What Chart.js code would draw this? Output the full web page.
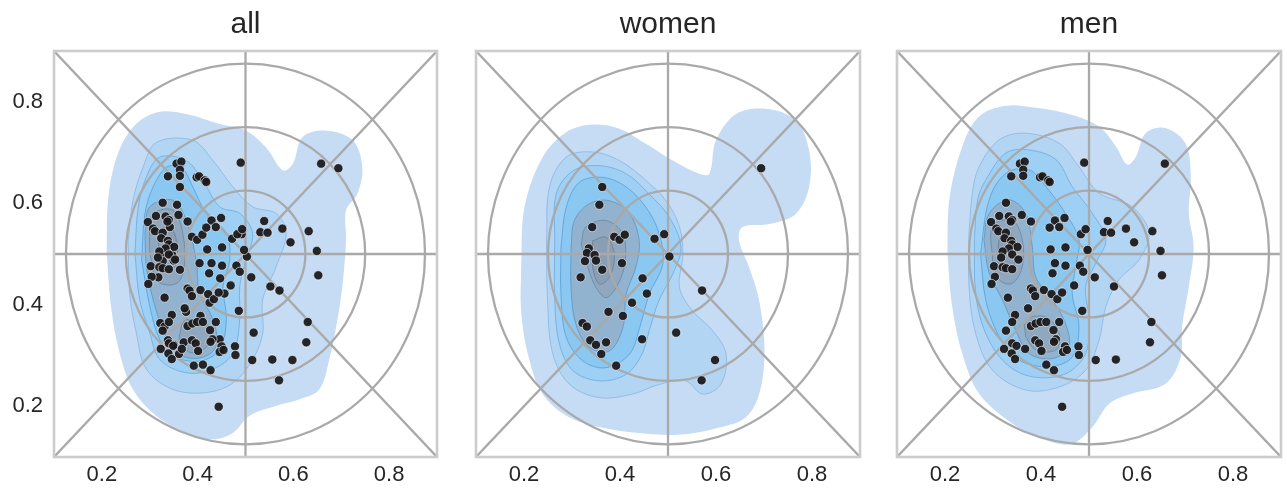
<!DOCTYPE html>
<html><head><meta charset="utf-8">
<script src="https://cdn.jsdelivr.net/npm/chart.js@4.4.1/dist/chart.umd.min.js"></script>
<style>
html,body{margin:0;padding:0;background:#fff;width:1287px;height:491px;overflow:hidden}
canvas{position:absolute;left:0;top:0}
</style></head><body>
<canvas id="c0" width="1287" height="491"></canvas>
<canvas id="c1" width="1287" height="491"></canvas>
<canvas id="c2" width="1287" height="491"></canvas>
<script>
// ---------------- DATA ----------------
const panelTitles = ['all', 'women', 'men'];
const xTicks = [0.2, 0.4, 0.6, 0.8];
const yTicks = [0.2, 0.4, 0.6, 0.8];
const axisRange = [0.1, 0.9];
const ringCenter = [0.5, 0.5];
const ringRadii = [0.125, 0.25, 0.375];
const spokes = [
  [[0.1, 0.5], [0.9, 0.5]],
  [[0.5, 0.1], [0.5, 0.9]],
  [[0.1, 0.1], [0.9, 0.9]],
  [[0.1, 0.9], [0.9, 0.1]]
];

const womenPoints = [
  [0.694,0.669],[0.363,0.632],[0.357,0.597],[0.342,0.553],[0.388,0.534],[0.399,0.528],[0.410,0.538],
  [0.472,0.530],[0.492,0.539],[0.335,0.511],[0.331,0.502],[0.347,0.498],[0.327,0.486],[0.350,0.487],
  [0.363,0.469],[0.404,0.482],[0.503,0.495],[0.318,0.454],[0.447,0.452],[0.456,0.422],[0.571,0.428],
  [0.425,0.404],[0.376,0.386],[0.406,0.378],[0.322,0.364],[0.331,0.357],[0.517,0.345],[0.338,0.330],
  [0.350,0.321],[0.371,0.326],[0.446,0.332],[0.361,0.303],[0.392,0.280],[0.598,0.291],[0.570,0.251]
];

const menPoints = [
  [0.356,0.678],[0.366,0.682],[0.363,0.666],[0.363,0.654],[0.338,0.653],[0.398,0.651],[0.403,0.653],
  [0.415,0.645],[0.418,0.642],[0.490,0.680],[0.658,0.678],[0.327,0.601],[0.313,0.575],[0.296,0.563],
  [0.333,0.574],[0.340,0.567],[0.337,0.564],[0.360,0.577],[0.379,0.564],[0.307,0.550],[0.311,0.545],
  [0.327,0.542],[0.324,0.531],[0.338,0.526],[0.340,0.519],[0.351,0.514],[0.333,0.511],[0.320,0.505],
  [0.317,0.493],[0.340,0.499],[0.353,0.489],[0.302,0.476],[0.320,0.474],[0.327,0.472],[0.340,0.470],
  [0.304,0.455],[0.297,0.441],[0.429,0.566],[0.449,0.571],[0.438,0.553],[0.418,0.552],[0.483,0.539],
  [0.493,0.549],[0.539,0.565],[0.531,0.543],[0.546,0.542],[0.577,0.550],[0.594,0.523],[0.632,0.545],
  [0.649,0.506],[0.652,0.458],[0.420,0.509],[0.451,0.513],[0.497,0.508],[0.429,0.482],[0.451,0.477],
  [0.481,0.477],[0.488,0.465],[0.424,0.462],[0.512,0.454],[0.469,0.438],[0.552,0.436],[0.379,0.432],
  [0.383,0.428],[0.388,0.417],[0.406,0.429],[0.422,0.421],[0.434,0.411],[0.444,0.424],[0.331,0.414],
  [0.373,0.393],[0.346,0.380],[0.340,0.366],[0.327,0.349],[0.486,0.388],[0.630,0.366],[0.627,0.326],
  [0.379,0.358],[0.389,0.363],[0.399,0.366],[0.411,0.366],[0.438,0.366],[0.426,0.350],[0.388,0.330],
  [0.396,0.324],[0.431,0.332],[0.427,0.327],[0.340,0.324],[0.349,0.319],[0.323,0.313],[0.367,0.313],
  [0.339,0.304],[0.346,0.293],[0.401,0.309],[0.450,0.318],[0.446,0.307],[0.454,0.311],[0.478,0.318],
  [0.479,0.301],[0.514,0.291],[0.556,0.292],[0.411,0.282],[0.427,0.271],[0.444,0.199]
];

const allPoints = womenPoints.concat(menPoints);

// KDE density contour levels (outer -> inner), per panel
const allKde1 = [[0.210,0.500],[0.213,0.606],[0.231,0.691],[0.265,0.750],[0.314,0.779],[0.376,0.776],[0.446,0.756],[0.501,0.743],[0.543,0.710],[0.578,0.665],[0.599,0.678],[0.619,0.730],[0.668,0.743],[0.724,0.724],[0.744,0.671],[0.734,0.619],[0.710,0.586],[0.710,0.527],[0.703,0.442],[0.692,0.371],[0.675,0.292],[0.654,0.233],[0.613,0.214],[0.564,0.201],[0.508,0.181],[0.474,0.148],[0.432,0.135],[0.376,0.148],[0.314,0.181],[0.265,0.233],[0.237,0.305],[0.220,0.390]];
const allKde2 = [[0.255,0.527],[0.265,0.606],[0.286,0.671],[0.314,0.720],[0.390,0.724],[0.432,0.684],[0.474,0.632],[0.515,0.593],[0.564,0.580],[0.585,0.541],[0.564,0.475],[0.536,0.410],[0.536,0.344],[0.515,0.292],[0.474,0.246],[0.418,0.227],[0.349,0.233],[0.293,0.273],[0.272,0.344],[0.258,0.423]];
const allKde3 = [[0.269,0.501],[0.276,0.593],[0.293,0.652],[0.321,0.691],[0.376,0.684],[0.411,0.645],[0.446,0.593],[0.488,0.580],[0.515,0.541],[0.501,0.488],[0.488,0.436],[0.488,0.371],[0.474,0.305],[0.432,0.273],[0.376,0.266],[0.321,0.292],[0.300,0.344],[0.279,0.410]];
const allKde4 = [[0.283,0.488],[0.290,0.580],[0.307,0.632],[0.335,0.671],[0.366,0.671],[0.390,0.632],[0.418,0.580],[0.460,0.541],[0.467,0.488],[0.453,0.436],[0.460,0.371],[0.446,0.312],[0.404,0.289],[0.349,0.299],[0.321,0.331],[0.300,0.397]];
const allKde5 = [[0.290,0.541],[0.300,0.593],[0.349,0.606],[0.376,0.567],[0.397,0.488],[0.404,0.423],[0.432,0.371],[0.439,0.318],[0.404,0.295],[0.356,0.305],[0.328,0.351],[0.307,0.410],[0.293,0.475]];
const allKde6a = [[0.300,0.501],[0.300,0.547],[0.307,0.580],[0.349,0.586],[0.369,0.541],[0.372,0.475],[0.356,0.442],[0.317,0.446]];
const allKde6b = [[0.366,0.358],[0.376,0.371],[0.418,0.364],[0.425,0.325],[0.390,0.305],[0.363,0.325]];
const allKde7 = [[0.318,0.510],[0.322,0.545],[0.340,0.555],[0.355,0.530],[0.355,0.480],[0.335,0.465],[0.320,0.480]];

const womenKde1 = [[0.194,0.474],[0.201,0.592],[0.239,0.691],[0.288,0.740],[0.343,0.755],[0.399,0.747],[0.454,0.717],[0.510,0.684],[0.565,0.658],[0.586,0.658],[0.600,0.724],[0.642,0.776],[0.704,0.786],[0.766,0.763],[0.794,0.704],[0.794,0.632],[0.766,0.579],[0.711,0.559],[0.655,0.553],[0.648,0.526],[0.669,0.474],[0.690,0.408],[0.701,0.309],[0.690,0.224],[0.662,0.178],[0.607,0.158],[0.537,0.145],[0.468,0.145],[0.378,0.155],[0.295,0.178],[0.239,0.224],[0.208,0.303],[0.194,0.388]];
const womenKde2 = [[0.247,0.526],[0.253,0.632],[0.288,0.691],[0.343,0.701],[0.399,0.684],[0.454,0.645],[0.496,0.605],[0.524,0.553],[0.531,0.500],[0.524,0.434],[0.551,0.388],[0.593,0.349],[0.621,0.303],[0.610,0.243],[0.572,0.224],[0.537,0.250],[0.482,0.243],[0.426,0.224],[0.357,0.217],[0.295,0.243],[0.260,0.303],[0.249,0.408]];
const womenKde3 = [[0.264,0.526],[0.267,0.618],[0.302,0.664],[0.357,0.674],[0.413,0.658],[0.461,0.618],[0.503,0.572],[0.527,0.513],[0.510,0.461],[0.481,0.408],[0.461,0.349],[0.446,0.303],[0.413,0.263],[0.357,0.250],[0.302,0.270],[0.274,0.322],[0.264,0.408]];
const womenKde4 = [[0.277,0.513],[0.288,0.592],[0.315,0.641],[0.364,0.651],[0.413,0.632],[0.454,0.592],[0.482,0.539],[0.489,0.480],[0.461,0.421],[0.441,0.355],[0.420,0.303],[0.371,0.276],[0.323,0.289],[0.288,0.336],[0.277,0.421]];
const womenKde5 = [[0.298,0.513],[0.305,0.566],[0.336,0.599],[0.378,0.605],[0.420,0.579],[0.440,0.526],[0.433,0.474],[0.413,0.421],[0.406,0.355],[0.378,0.309],[0.336,0.316],[0.308,0.362],[0.298,0.434]];
const womenKde6 = [[0.319,0.520],[0.329,0.553],[0.371,0.566],[0.406,0.539],[0.410,0.480],[0.392,0.434],[0.371,0.414],[0.350,0.434],[0.333,0.474]];
const womenKde7 = [[0.343,0.526],[0.371,0.533],[0.388,0.500],[0.378,0.454],[0.357,0.441],[0.343,0.474]];

const menKde1 = [[0.205,0.501],[0.209,0.607],[0.236,0.712],[0.271,0.771],[0.327,0.792],[0.389,0.788],[0.465,0.774],[0.521,0.751],[0.556,0.712],[0.580,0.676],[0.598,0.692],[0.618,0.738],[0.660,0.748],[0.701,0.718],[0.712,0.653],[0.708,0.580],[0.718,0.514],[0.708,0.436],[0.694,0.357],[0.691,0.297],[0.660,0.245],[0.590,0.225],[0.542,0.205],[0.507,0.159],[0.465,0.126],[0.410,0.133],[0.340,0.166],[0.271,0.225],[0.236,0.304],[0.215,0.396]];
const menKde2 = [[0.250,0.541],[0.257,0.620],[0.271,0.672],[0.313,0.725],[0.368,0.738],[0.438,0.718],[0.479,0.672],[0.521,0.620],[0.590,0.593],[0.625,0.541],[0.604,0.488],[0.562,0.449],[0.535,0.396],[0.521,0.330],[0.493,0.271],[0.438,0.238],[0.368,0.232],[0.299,0.271],[0.264,0.343],[0.250,0.436]];
const menKde3 = [[0.261,0.528],[0.268,0.607],[0.285,0.646],[0.327,0.699],[0.375,0.705],[0.431,0.686],[0.465,0.633],[0.507,0.580],[0.535,0.528],[0.514,0.482],[0.493,0.436],[0.500,0.370],[0.493,0.304],[0.451,0.264],[0.382,0.258],[0.327,0.284],[0.285,0.343],[0.264,0.422]];
const menKde4 = [[0.274,0.501],[0.292,0.607],[0.327,0.659],[0.375,0.666],[0.410,0.633],[0.451,0.580],[0.479,0.528],[0.472,0.475],[0.465,0.422],[0.479,0.357],[0.465,0.297],[0.417,0.278],[0.354,0.291],[0.313,0.337],[0.285,0.409]];
const menKde5 = [[0.281,0.528],[0.292,0.580],[0.333,0.607],[0.368,0.580],[0.382,0.514],[0.389,0.455],[0.424,0.409],[0.451,0.363],[0.458,0.317],[0.424,0.294],[0.375,0.304],[0.347,0.350],[0.320,0.409],[0.292,0.462]];
const menKde6a = [[0.299,0.488],[0.299,0.554],[0.340,0.567],[0.361,0.528],[0.361,0.475],[0.340,0.442],[0.313,0.449]];
const menKde6b = [[0.368,0.337],[0.368,0.370],[0.410,0.376],[0.438,0.343],[0.431,0.311],[0.389,0.311]];
const menKde7 = [[0.310,0.500],[0.315,0.535],[0.332,0.545],[0.345,0.520],[0.343,0.475],[0.325,0.465],[0.312,0.480]];

// level index for each contour polygon (0 = outermost)
const panelKde = [
  [[allKde1,0],[allKde2,1],[allKde3,2],[allKde4,3],[allKde5,4],[allKde6a,5],[allKde6b,5],[allKde7,6]],
  [[womenKde1,0],[womenKde2,1],[womenKde3,2],[womenKde4,3],[womenKde5,4],[womenKde6,5],[womenKde7,6]],
  [[menKde1,0],[menKde2,1],[menKde3,2],[menKde4,3],[menKde5,4],[menKde6a,5],[menKde6b,5],[menKde7,6]]
];
const panelPoints = [allPoints, womenPoints, menPoints];

// ---------------- STYLE / LAYOUT ----------------
const FONT = "'Liberation Sans', Arial, sans-serif";
const TEXT = '#262626';
const kdeFill = ['#c5dcf4', '#b3d5f4', '#9ecff4', '#8ac8f1', '#92b3cf', '#8fa8bf', '#8b9fb4'];
const kdeLine = ['rgba(0,0,0,0)', 'rgba(110,165,220,0.6)', 'rgba(80,150,210,0.6)', 'rgba(60,135,200,0.6)', 'rgba(80,125,170,0.6)', 'rgba(85,115,145,0.6)', 'rgba(85,110,135,0.6)'];
const panelBox = [[54, 437], [476, 860], [897, 1281]];
const CW = 1287;

const circumplex = {
  id: 'circumplex',
  beforeDatasetDraw(chart, args) {
    if (!chart.data.datasets[args.index].isPoints) return;
    const {ctx, chartArea: a, scales: {x, y}} = chart;
    ctx.save();
    ctx.beginPath(); ctx.rect(a.left, a.top, a.right - a.left, a.bottom - a.top); ctx.clip();
    ctx.strokeStyle = '#a9a9a9'; ctx.lineWidth = 2.3;
    const cx = x.getPixelForValue(ringCenter[0]), cy = y.getPixelForValue(ringCenter[1]);
    ringRadii.forEach(r => {
      const rx = x.getPixelForValue(ringCenter[0] + r) - cx;
      const ry = cy - y.getPixelForValue(ringCenter[1] + r);
      ctx.beginPath(); ctx.ellipse(cx, cy, rx, ry, 0, 0, Math.PI * 2); ctx.stroke();
    });
    spokes.forEach(s => {
      ctx.beginPath();
      ctx.moveTo(x.getPixelForValue(s[0][0]), y.getPixelForValue(s[0][1]));
      ctx.lineTo(x.getPixelForValue(s[1][0]), y.getPixelForValue(s[1][1]));
      ctx.stroke();
    });
    ctx.restore();
  },
  afterDraw(chart) {
    const {ctx, chartArea: a} = chart;
    ctx.save();
    ctx.strokeStyle = '#cccccc'; ctx.lineWidth = 2.6;
    ctx.strokeRect(a.left, a.top, a.right - a.left, a.bottom - a.top);
    ctx.restore();
  }
};

function makeChart(i) {
  const yw = i === 0 ? 54 : 0;
  const datasets = [];
  panelKde[i].forEach((item, k) => {
    const pts = item[0], lv = item[1];
    const data = pts.map(p => ({x: p[0], y: p[1]}));
    data.push({x: pts[0][0], y: pts[0][1]});
    datasets.push({
      type: 'line', data, fill: 'shape',
      backgroundColor: kdeFill[lv], borderColor: kdeLine[lv],
      borderWidth: lv === 0 ? 0 : 0.9, pointRadius: 0, tension: 0.35,
      order: 100 - k
    });
  });
  datasets.push({
    type: 'scatter', isPoints: true,
    data: panelPoints[i].map(p => ({x: p[0], y: p[1]})),
    pointRadius: 4.6, backgroundColor: 'rgba(26,26,30,0.95)',
    borderColor: 'rgba(255,255,255,0.85)', borderWidth: 0.7, order: 0
  });
  new Chart(document.getElementById('c' + i), {
    data: {datasets},
    plugins: [circumplex],
    options: {
      responsive: false, animation: false, events: [],
      layout: {padding: {left: panelBox[i][0] - yw, right: CW - panelBox[i][1], top: 0, bottom: 0}},
      plugins: {
        legend: {display: false}, tooltip: {enabled: false},
        title: {display: true, fullSize: false, text: panelTitles[i], color: TEXT,
          font: {family: FONT, size: 30, weight: 'normal', lineHeight: 1.2},
          padding: {top: 7, bottom: 8}}
      },
      scales: {
        x: {
          type: 'linear', min: axisRange[0], max: axisRange[1],
          grid: {display: false, drawTicks: false}, border: {display: false},
          ticks: {color: TEXT, font: {family: FONT, size: 22}, padding: 5,
            callback: v => v.toFixed(1)},
          afterBuildTicks: s => { s.ticks = xTicks.map(v => ({value: v})); },
          afterFit: s => { s.height = 34; }
        },
        y: {
          type: 'linear', min: axisRange[0], max: axisRange[1], display: i === 0,
          grid: {display: false, drawTicks: false}, border: {display: false},
          ticks: {color: TEXT, font: {family: FONT, size: 22}, padding: 11,
            callback: v => v.toFixed(1)},
          afterBuildTicks: s => { s.ticks = yTicks.map(v => ({value: v})); },
          afterFit: s => { s.width = yw; }
        }
      }
    }
  });
}
[0, 1, 2].forEach(makeChart);
</script></body></html>
